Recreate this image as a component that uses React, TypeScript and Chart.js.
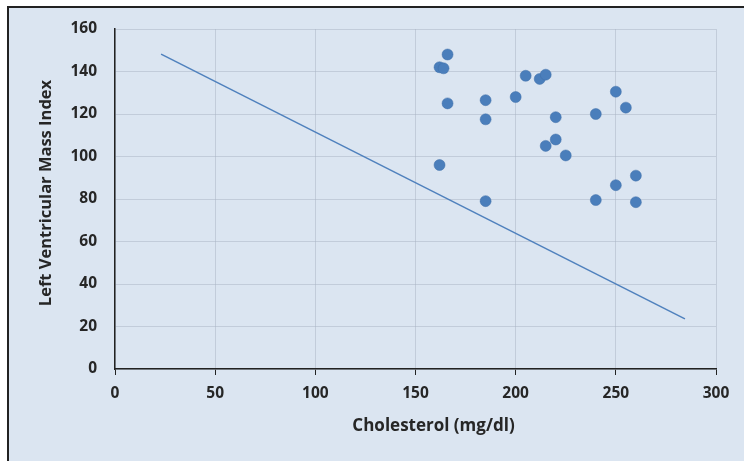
import React, { useEffect, useRef } from "react";
import { Chart, registerables } from "chart.js";

Chart.register(...registerables);

const cholesterol = [166, 162, 164, 166, 185, 185, 162, 185, 200, 205, 212, 215, 220, 220, 215, 225, 240, 250, 255, 240, 250, 260, 260];
const lvmi = [148, 142, 141.5, 125, 126.5, 117.5, 96, 79, 128, 138, 136.5, 138.5, 118.5, 108, 105, 100.5, 120, 130.5, 123, 79.5, 86.5, 91, 78.5];
const trendX = [23, 284.5];
const trendY = [148.2, 23.6];

const xTitle = "Cholesterol (mg/dl)";
const yTitle = "Left Ventricular Mass Index";

const FONT = "'Open Sans', 'Noto Sans', sans-serif";
const TEXT = "#262626";

const titlesPlugin = {
  id: "axisTitles",
  afterDraw(chart: any) {
    const { ctx, chartArea } = chart;
    ctx.save();
    ctx.fillStyle = TEXT;
    ctx.font = `bold 17px ${FONT}`;
    ctx.textAlign = "center";
    ctx.textBaseline = "middle";
    ctx.fillText(xTitle, (chartArea.left + chartArea.right) / 2 + 18, chartArea.bottom + 57);
    ctx.translate(chartArea.left - 69, (chartArea.top + chartArea.bottom) / 2 - 6);
    ctx.rotate(-Math.PI / 2);
    ctx.font = `bold 16.5px ${FONT}`;
    ctx.fillText(yTitle, 0, 0);
    ctx.restore();
  },
};

export default function App() {
  const ref = useRef<HTMLCanvasElement>(null);
  useEffect(() => {
    if (!ref.current) return;
    const chart = new Chart(ref.current, {
      type: "scatter",
      data: {
        datasets: [
          {
            label: "Data",
            data: cholesterol.map((x, i) => ({ x, y: lvmi[i] })),
            backgroundColor: "#4a7ebb",
            borderColor: "#3f6fa8",
            borderWidth: 0.5,
            pointRadius: 5.5,
            showLine: false,
            order: 1,
          },
          {
            label: "Trend",
            data: trendX.map((x, i) => ({ x, y: trendY[i] })),
            showLine: true,
            borderColor: "#4f81bd",
            borderWidth: 1.5,
            pointRadius: 0,
            fill: false,
            order: 2,
          },
        ],
      },
      options: {
        animation: false,
        responsive: false,
        maintainAspectRatio: false,
        layout: { padding: { left: 0, top: 29, right: 28, bottom: 0 } },
        plugins: { legend: { display: false }, tooltip: { enabled: false } },
        scales: {
          x: {
            type: "linear",
            min: 0,
            max: 300,
            ticks: { stepSize: 50, color: TEXT, font: { family: FONT, size: 15.5, weight: "bold" }, padding: 9, maxRotation: 0 },
            grid: { color: "rgba(170,180,195,0.5)", lineWidth: 1, tickLength: 6, tickColor: "#222", drawTicks: true },
            border: { color: "#222", width: 1.5 },
            title: { display: false },
            afterFit: (s: any) => { s.height = 92; },
          },
          y: {
            type: "linear",
            min: 0,
            max: 160,
            ticks: { stepSize: 20, color: TEXT, font: { family: FONT, size: 15.5, weight: "bold" }, padding: 18 },
            grid: { color: "rgba(170,180,195,0.5)", lineWidth: 1, drawTicks: false },
            border: { color: "#222", width: 1.5 },
            title: { display: false },
            afterFit: (s: any) => { s.width = 115; },
          },
        },
      },
      plugins: [titlesPlugin],
    });
    return () => chart.destroy();
  }, []);
  return (
    <div style={{ position: "fixed", left: 0, top: 0, width: 744, height: 461, background: "#fff", overflow: "hidden" }}>
      <div style={{ position: "absolute", left: 7, top: 6, width: 760, height: 480, background: "#dbe5f1", borderTop: "2px solid #222", borderLeft: "2px solid #222" }} />
      <canvas ref={ref} width={744} height={461} style={{ position: "absolute", left: 0, top: 0, width: 744, height: 461 }} />
    </div>
  );
}
